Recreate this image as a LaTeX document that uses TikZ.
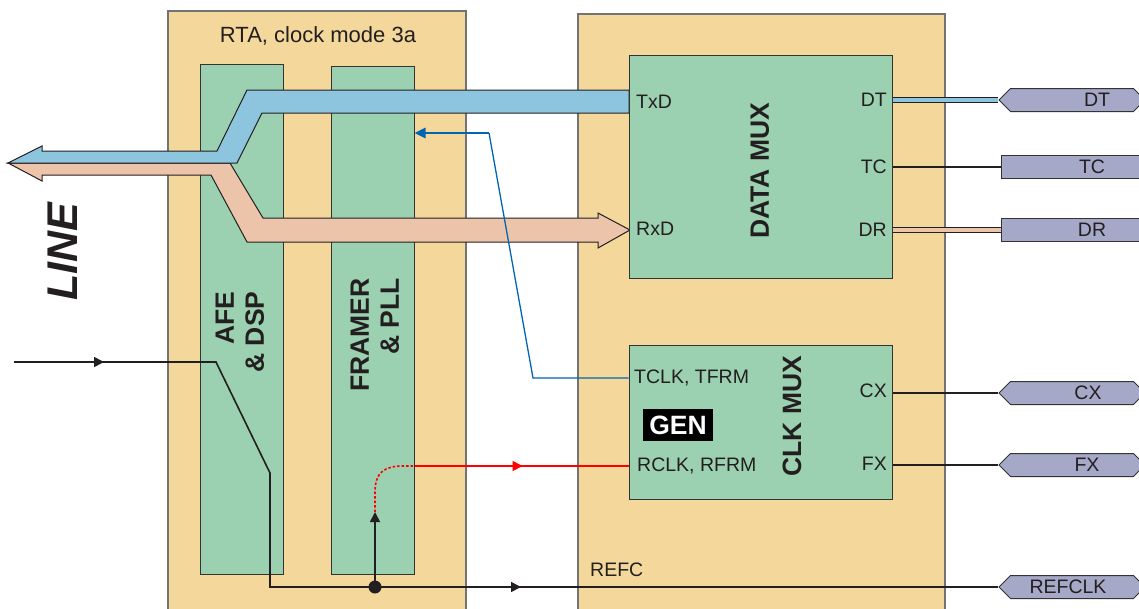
\documentclass[tikz,border=0pt]{standalone}
\usepackage{fontspec}
\setmainfont{Liberation Sans}
\usetikzlibrary{arrows.meta, shapes.symbols, decorations.markings}
\definecolor{tan}{RGB}{244,216,155}
\definecolor{mint}{RGB}{155,208,176}
\definecolor{bandblue}{RGB}{141,197,222}
\definecolor{bandsalmon}{RGB}{236,196,170}
\definecolor{tagblue}{RGB}{165,168,198}
\definecolor{wireblue}{RGB}{0,102,178}
\definecolor{txt}{RGB}{35,31,32}
\tikzset{
	unit/.style={draw=black!55, line width=1.2pt, fill=tan, inner sep=0pt},
	block/.style={draw=black!80, line width=1pt, fill=mint, inner sep=0pt},
	port/.style={inner sep=0pt, text=txt, font=\fontsize{19.5}{21}\selectfont},
	boldlbl/.style={inner sep=0pt, text=txt, font=\fontsize{26.5}{30}\selectfont\bfseries, rotate=90},
	sigtag/.style={signal, signal to=west and east, signal pointer angle=90, draw=black!80, line width=1pt, fill=tagblue, minimum width=146pt, minimum height=23pt, inner sep=0pt},
	flattag/.style={rectangle, draw=black!80, line width=1pt, fill=tagblue, minimum width=150pt, minimum height=23pt, inner sep=0pt},
	wire/.style={line width=1.6pt, txt},
	band/.style={line width=0.9pt, draw=txt, double=#1, double distance=4pt},
	midtip/.style={postaction={decorate}, decoration={markings, mark=at position #1 with {\arrow{Triangle[length=10pt,width=10pt]}}}},
}
\begin{document}
\begin{tikzpicture}[x=1pt,y=-1pt]
		\useasboundingbox (0,0) rectangle (1139,608);
		\clip (0,0) rectangle (1139,608);

		\node[unit, minimum width=298pt, minimum height=601pt] (rta) at (317,311.5) {};
		\node[unit, minimum width=367pt, minimum height=598pt] (core) at (761.5,313) {};
		\node[block, minimum width=83pt, minimum height=510pt] (afe) at (241.5,319) {};
		\node[block, minimum width=83pt, minimum height=508pt] (framer) at (372.5,320) {};
		\node[text=txt, inner sep=0pt, font=\fontsize{22}{24}\selectfont] (title) at (318,36) {RTA, clock mode 3a};
		\node[boldlbl, align=right] (afelbl) at (240,332) {AFE\\\& DSP};
		\node[boldlbl, align=right] (framerlbl) at (375,335) {FRAMER\\\& PLL};

		\draw[line width=1pt, draw=txt, fill=bandsalmon] (8,163) -- (42,181) -- (42,175) -- (211,175) -- (247,242) -- (598,242) -- (598,248) -- (630,230) -- (598,213) -- (598,218) -- (263,218) -- (230,163) -- cycle;
		\draw[line width=1pt, draw=txt, fill=bandblue] (629,90) -- (247,90) -- (217,151) -- (42,151) -- (42,146) -- (8,163) -- (237,163) -- (262,113) -- (629,113) -- cycle;
		\node[inner sep=0pt, text=txt, rotate=90, font=\fontsize{43}{43}\selectfont\bfseries\itshape] (line) at (63,252) {LINE};

		\node[block, minimum width=263pt, minimum height=223pt] (dmux) at (760.5,166.5) {};
		\node[block, minimum width=263pt, minimum height=154pt] (cmux) at (760.5,422) {};
		\node[boldlbl] (dmuxlbl) at (760,171) {DATA MUX};
		\node[boldlbl] (cmuxlbl) at (792,416) {CLK MUX};
		\node[port, anchor=west] (txd) at (636,102) {TxD};
		\node[port, anchor=west] (rxd) at (636,229) {RxD};
		\node[port, anchor=east] (dtl) at (887,100) {DT};
		\node[port, anchor=east] (tcl) at (887,167) {TC};
		\node[port, anchor=east] (drl) at (887,230) {DR};
		\node[port, anchor=west] (tclk) at (634,378) {TCLK, TFRM};
		\node[port, anchor=west] (rclk) at (637,466) {RCLK, RFRM};
		\node[port, anchor=east] (cxl) at (887,391) {CX};
		\node[port, anchor=east] (fxl) at (887,464) {FX};
		\node[fill=black, text=white, inner sep=0pt, minimum width=70pt, minimum height=32pt, font=\fontsize{26.5}{28}\selectfont\bfseries] (gen) at (678,425) {GEN};
		\node[port, anchor=west] (refc) at (590,570) {REFC};

		\foreach \nm/\yy in {dt/100, cx/393, fx/465, refclk/587}
			\node[sigtag] (t\nm) at (1072,\yy) {};
		\foreach \nm/\yy in {tc/167, dr/230}
			\node[flattag] (t\nm) at (1076,\yy) {};
		\foreach \nm/\xx/\yy/\tx in {dt/1097/100/DT, tc/1092/167/TC, dr/1092/230/DR, cx/1088/393/CX, fx/1087/465/FX, refclk/1068/587/REFCLK}
			\node[port] (l\nm) at (\xx,\yy) {\tx};

		\draw[band=bandblue] (dmux.east |- tdt.west) -- (tdt.west);
		\draw[band=bandsalmon] (dmux.east |- tdr.west) -- (tdr.west);
		\foreach \nm in {tc}
			\draw[line width=1.3pt, txt] (dmux.east |- t\nm.west) -- (t\nm.west);
		\foreach \nm in {cx, fx}
			\draw[line width=1.3pt, txt] (cmux.east |- t\nm.west) -- (t\nm.west);

		\coordinate (tb1) at (533,378);
		\coordinate (tb2) at (489,133);
		\draw[wireblue, line width=1.3pt] (cmux.west |- tclk) -- (tb1) -- (tb2);
		\draw[wireblue, line width=2.6pt, -{Triangle[length=11pt,width=10pt]}] (tb2) -- (framer.east |- tb2);

		\coordinate (lin) at (14,362);
		\coordinate (lk1) at (216,362);
		\coordinate (lk2) at (270,473);
		\coordinate (lk3) at (270,587);
		\coordinate (pllin) at (375,512);
		\node[circle, fill=txt, minimum size=13pt, inner sep=0pt] (dot) at (375,587) {};
		\draw[wire, midtip=90pt] (lin) -- (lk1) -- (lk2) -- (lk3) -- (dot.center);
		\draw[wire, midtip=146pt] (dot.center) -- (trefclk.west);
		\draw[wire, -{Triangle[length=10pt,width=10pt]}] (dot.center) -- (pllin);
		\draw[red, line width=1.6pt, dash pattern=on 2.5pt off 2pt] (pllin) -- (375,492) .. controls (375,472) and (385,466) .. (403,466) -- (framer.east |- rclk);
		\draw[red, line width=1.8pt, midtip=108pt] (framer.east |- rclk) -- (cmux.west |- rclk);
\end{tikzpicture}
\end{document}
